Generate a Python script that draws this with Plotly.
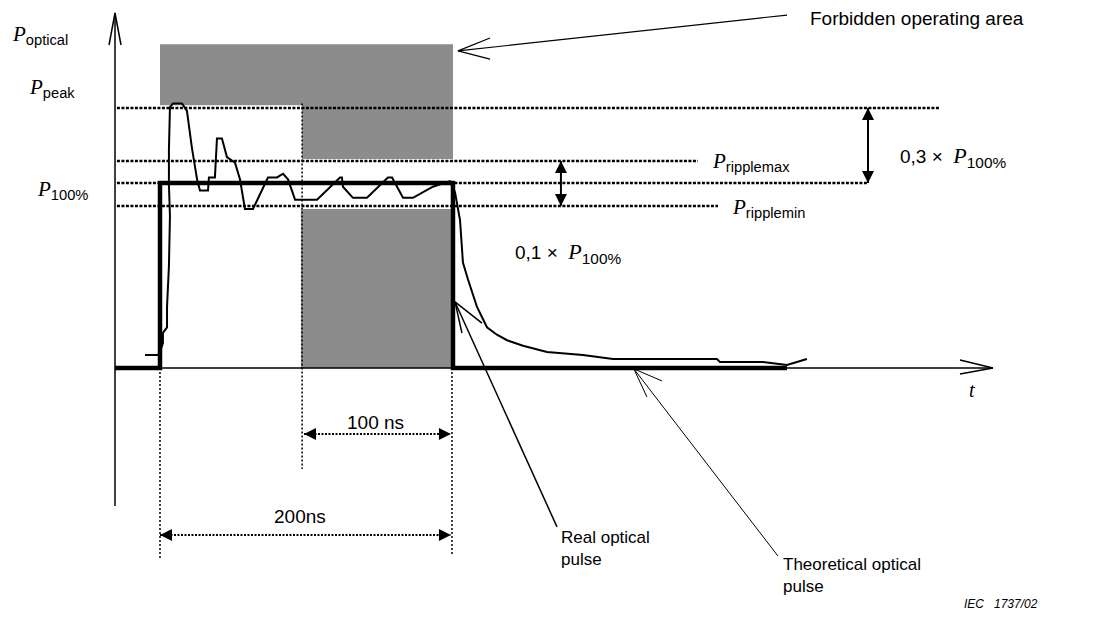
import plotly.graph_objects as go

# real optical pulse (t in ns, P relative to P100%)
real_t = [-10.2, -1.4, 0, 2.0, 2.0, 4.8, 4.8, 6.1, 6.8, 6.1, 6.1, 6.8, 8.9, 15.0, 18.4, 21.8,
          25.3, 27.3, 32.8, 33.4, 37.5, 38.9, 42.3, 45.7, 51.2, 54.6, 58.0, 63.5, 73.7, 79.9,
          84.0, 87.4, 92.2, 107.2, 122.9, 124.2, 124.9, 131.7, 141.3, 155.6, 158.4, 165.9,
          172.7, 186.3, 197.9, 201.4, 204.8, 206.8, 210.2, 216.4, 223.2, 230.0, 236.9, 247.8,
          264.2, 288.7, 309.2, 380.2, 382.3, 411.6, 428.0, 432.1, 441.6]
real_p = [0.07, 0.07, 0.086, 0.135, 0.19, 0.22, 0.33, 0.55, 0.82, 0.99, 1.18, 1.41, 1.43, 1.43,
          1.39, 1.19, 1.02, 0.96, 0.96, 1.03, 1.03, 1.24, 1.24, 1.14, 1.11, 1.02, 0.86, 0.86,
          1.03, 1.03, 1.05, 1.02, 0.91, 0.91, 1.03, 1.03, 0.98, 0.92, 0.92, 1.03, 1.03, 0.92,
          0.92, 0.98, 1.01, 0.95, 0.80, 0.57, 0.48, 0.33, 0.22, 0.18, 0.15, 0.12, 0.086, 0.07,
          0.049, 0.049, 0.032, 0.032, 0.016, 0.027, 0.049]

# theoretical optical pulse
theo_t = [-30.7, 0, 0, 200, 200, 428]
theo_p = [0, 0, 1, 1, 0, 0]

# forbidden operating areas
forbid_hi_t = [0, 200, 200, 97, 97, 0, 0]
forbid_hi_p = [1.75, 1.75, 1.13, 1.13, 1.42, 1.42, 1.75]
forbid_lo_t = [96.2, 198.6, 198.6, 96.2, 96.2]
forbid_lo_p = [0, 0, 0.86, 0.86, 0]

# reference levels: name, level, end of dotted line
level_names = ["peak", "ripplemax", "100%", "ripplemin"]
level_vals = [1.405, 1.119, 1.0, 0.876]
level_ends = [532.4, 367.2, 483.3, 380.9]
level_start = -29.4

GRAY = "#8c8c8c"
SERIF = "Liberation Serif"
SANS = "Liberation Sans"


def plab(sub):
    return f"<span style='font-family:{SERIF}'><i>P</i></span><sub>{sub}</sub>"


fig = go.Figure()

line = lambda w, dash="solid": dict(color="black", width=w, dash=dash)

fig.add_trace(go.Scatter(x=forbid_hi_t, y=forbid_hi_p, fill="toself", fillcolor=GRAY,
                         mode="none", hoverinfo="skip"))
fig.add_trace(go.Scatter(x=forbid_lo_t, y=forbid_lo_p, fill="toself", fillcolor=GRAY,
                         mode="none", hoverinfo="skip"))

# dotted level lines
for v, e in zip(level_vals, level_ends):
    fig.add_trace(go.Scatter(x=[level_start, e], y=[v, v], mode="lines",
                             line=line(2.5, "3px,1.5px")))

# vertical dotted guides
fig.add_trace(go.Scatter(x=[0, 0], y=[0, -1.038], mode="lines", line=line(1.5, "2px,2px")))
fig.add_trace(go.Scatter(x=[97, 97], y=[1.43, -0.546], mode="lines", line=line(1.5, "2px,2px")))
fig.add_trace(go.Scatter(x=[199.3, 199.3], y=[0, -1.01], mode="lines", line=line(1.5, "2px,2px")))

# axes
fig.add_trace(go.Scatter(x=[-30.7, -30.7], y=[-0.746, 1.919], mode="lines", line=line(1.5)))
fig.add_trace(go.Scatter(x=[-34.8, -30.7, -26.6], y=[1.746, 1.919, 1.746], mode="lines", line=line(1.5)))
fig.add_trace(go.Scatter(x=[-30.7, 568.6], y=[0, 0], mode="lines", line=line(1.5)))
fig.add_trace(go.Scatter(x=[546.1, 568.6, 546.1], y=[0.043, 0, -0.032], mode="lines", line=line(1.5)))

# pulses
fig.add_trace(go.Scatter(x=real_t, y=real_p, mode="lines", line=line(2)))
fig.add_trace(go.Scatter(x=theo_t, y=theo_p, mode="lines", line=line(4.5)))

# dimension arrows
for y, x0, x1 in [(-0.357, 98.3, 198.6), (-0.903, 0, 198.6)]:
    fig.add_trace(go.Scatter(x=[x0, x1], y=[y, y], mode="lines", line=line(2, "2px,1.5px")))
    fig.add_trace(go.Scatter(x=[x0, x1], y=[y, y], mode="markers",
                             marker=dict(symbol=["arrow-left", "arrow-right"], size=12, color="black")))
for x, y0, y1 in [(273.7, 1.119, 0.876), (483.3, 1.405, 1.0)]:
    fig.add_trace(go.Scatter(x=[x, x], y=[y0, y1], mode="lines", line=line(2)))
    fig.add_trace(go.Scatter(x=[x, x], y=[y0, y1], mode="markers",
                             marker=dict(symbol=["arrow-up", "arrow-down"], size=12, color="black")))

# callout lines
fig.add_trace(go.Scatter(x=[428.0, 203.4], y=[1.908, 1.714], mode="lines", line=line(1.2)))
fig.add_trace(go.Scatter(x=[225.3, 203.4, 225.3], y=[1.784, 1.714, 1.670], mode="lines", line=line(1.2)))
fig.add_trace(go.Scatter(x=[271.0, 201.4], y=[-0.859, 0.357], mode="lines", line=line(1.5)))
fig.add_trace(go.Scatter(x=[206.1, 201.4, 219.8], y=[0.189, 0.357, 0.243], mode="lines", line=line(1.5)))
fig.add_trace(go.Scatter(x=[421.8, 323.5], y=[-1.016, -0.005], mode="lines", line=line(1)))
fig.add_trace(go.Scatter(x=[342.7, 323.5, 332.4], y=[-0.070, -0.005, -0.157], mode="lines", line=line(1)))

ann = []


def add_text(x, y, text, size=17, xanchor="left", family=SANS):
    ann.append(dict(x=x, y=y, xref="x", yref="y", text=text, showarrow=False, align="left",
                    xanchor=xanchor, yanchor="middle", font=dict(family=family, size=size, color="black")))


add_text(-102.5, 1.80, plab("optical"), 21)
add_text(-90.8, 1.514, plab("peak"), 21)
add_text(-85.3, 0.962, plab("100%"), 21)
add_text(375.4, 1.114, plab("ripplemax"), 21)
add_text(389.1, 0.865, plab("ripplemin"), 21)
add_text(241.0, 0.62, "<span style='font-size:19px'>0,1 ×  </span>" + plab("100%"), 22)
add_text(503.8, 1.14, "<span style='font-size:19px'>0,3 ×  </span>" + plab("100%"), 22)
add_text(442.3, 1.89, "Forbidden operating area", 19)
add_text(146.8, -0.297, "100 ns", 19, "center")
add_text(95.6, -0.805, "200ns", 19, "center")
add_text(554.3, -0.119, "<i>t</i>", 20, "center", SERIF)
add_text(272.4, -0.973, "Real optical<br>pulse", 17)
add_text(423.9, -1.119, "Theoretical optical<br>pulse", 17)
add_text(600.7, -1.276, "<i>IEC   1737/02</i>", 12, "right")

# page body has an 8px margin, so the figure is 8px smaller and the ranges start 8px in
fig.update_layout(
    width=1096, height=609,
    margin=dict(l=0, r=0, t=0, b=0),
    plot_bgcolor="white", paper_bgcolor="white",
    showlegend=False,
    annotations=ann,
    xaxis=dict(range=[-103.75, 644.4], visible=False, fixedrange=True),
    yaxis=dict(range=[-1.346, 1.946], visible=False, fixedrange=True),
)

fig.write_html("out.html")
